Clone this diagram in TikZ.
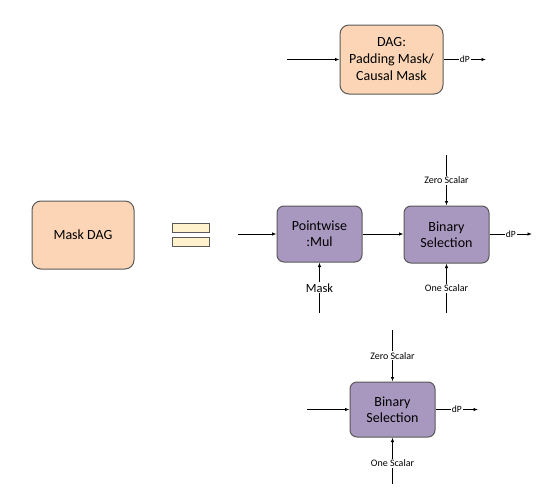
\documentclass[tikz,border=0pt]{standalone}
\usepackage{fontspec}
\setmainfont{Carlito}
\usepackage{tikz}
\usetikzlibrary{arrows.meta}
\definecolor{peach}{HTML}{FBD5B5}
\definecolor{lilac}{HTML}{A898C0}
\definecolor{cream}{HTML}{FFF2CC}
\definecolor{edgegray}{HTML}{595959}

\begin{document}
\begin{tikzpicture}[x=1pt,y=-1pt,>={Latex[length=4.5pt,width=3.5pt]},line width=0.8pt,
    dagbox/.style={shape=rectangle,rounded corners=9pt,draw=edgegray,line width=1pt,fill=peach,align=center,font=\fontsize{14}{17}\selectfont},
    opbox/.style={shape=rectangle,rounded corners=7pt,draw=edgegray,line width=1pt,fill=lilac,align=center,minimum width=85pt,font=\fontsize{14}{16.3}\selectfont},
    small/.style={fill=white,inner sep=1pt,font=\fontsize{10}{12}\selectfont}]
    \useasboundingbox (0,0) rectangle (539,496);
    \node[dagbox,minimum width=103pt,minimum height=69pt] (pad) at (391.5,59.5) {DAG:\\Padding Mask/\\Causal Mask};
    \coordinate (padin) at (287,59.5);
    \coordinate (padout) at (486,59.5);
    \path [->] (padin) edge (pad);
    \path [->] (pad) edge node[small,font=\fontsize{9.5}{11}\selectfont] {dP} (padout);

    \node[dagbox,minimum width=102pt,minimum height=68pt] (mask) at (83,235) {Mask DAG};
    \node[shape=rectangle,draw=edgegray,fill=cream,minimum width=37pt,minimum height=9pt,inner sep=0pt] (eqa) at (190.5,228) {};
    \node[shape=rectangle,draw=edgegray,fill=cream,minimum width=37pt,minimum height=9pt,inner sep=0pt] (eqb) at (190.5,241.5) {};

    \node[opbox,minimum height=56pt] (pw) at (319.5,234) {Pointwise\\:Mul};
    \node[opbox,minimum height=57pt] (bs) at (446.5,234.5) {Binary\\Selection};
    \coordinate (pwin) at (238,234);
    \coordinate (maskin) at (319.5,313);
    \coordinate (zeroa) at (446.5,155);
    \coordinate (onea) at (446.5,313);
    \coordinate (bsout) at (532,234);
    \path [->] (pwin) edge (pw);
    \path [->] (maskin) edge node[small,font=\fontsize{12.5}{14}\selectfont] {Mask} (pw);
    \path [->] (pw) edge (pw -| bs.west);
    \path [->] (zeroa) edge node[small] {Zero Scalar} (bs);
    \path [->] (onea) edge node[small] {One Scalar} (bs);
    \path [->] (bs.east |- pw) edge node[small,font=\fontsize{9.5}{11}\selectfont] {dP} (bsout);

    \node[opbox,minimum height=55pt] (bsb) at (392.5,409.5) {Binary\\Selection};
    \coordinate (bsbin) at (307,409.5);
    \coordinate (zerob) at (392.5,330);
    \coordinate (oneb) at (392.5,484);
    \coordinate (bsbout) at (478,409.5);
    \path [->] (bsbin) edge (bsb);
    \path [->] (zerob) edge node[small] {Zero Scalar} (bsb);
    \path [->] (oneb) edge node[small,pos=0.45] {One Scalar} (bsb);
    \path [->] (bsb) edge node[small,font=\fontsize{9.5}{11}\selectfont] {dP} (bsbout);
\end{tikzpicture}
\end{document}
